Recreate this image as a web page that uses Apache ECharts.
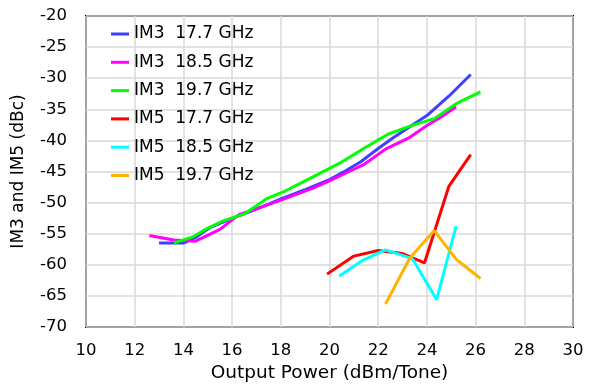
<!DOCTYPE html>
<html>
<head>
<meta charset="utf-8">
<script src="https://cdn.jsdelivr.net/npm/echarts@6/dist/echarts.min.js"></script>
<style>
  html, body { margin: 0; padding: 0; background: #fff; }
  #chart { width: 589px; height: 389px; }
</style>
</head>
<body>
<div id="chart"></div>
<script>
// Two-tone intermodulation products versus output power per tone
const seriesNames = ['IM3  17.7 GHz', 'IM3  18.5 GHz', 'IM3  19.7 GHz',
                     'IM5  17.7 GHz', 'IM5  18.5 GHz', 'IM5  19.7 GHz'];
const seriesColors = ['#3f3fff', '#ff00ff', '#00ff00', '#ff0000', '#00ffff', '#ffb400'];

// Output power (dBm/Tone) and level (dBc) for each trace
const im3_177_pout = [13.0, 14.0, 14.5, 15.1, 15.9, 16.7, 17.4, 18.0, 19.0, 20.0, 20.7, 21.3, 22.0, 22.6, 23.3, 24.0, 24.9, 25.8];
const im3_177_dbc  = [-56.5, -56.5, -55.6, -54.0, -52.7, -51.5, -50.4, -49.4, -47.9, -46.3, -44.8, -43.4, -41.3, -39.6, -37.8, -36.0, -32.9, -29.4];

const im3_185_pout = [12.6, 13.6, 14.5, 15.5, 16.3, 17.0, 18.0, 19.3, 20.0, 20.7, 21.4, 22.3, 23.3, 24.0, 24.6, 25.2];
const im3_185_dbc  = [-55.3, -56.0, -56.2, -54.3, -51.9, -51.0, -49.6, -47.7, -46.5, -45.2, -43.9, -41.4, -39.5, -37.6, -36.2, -34.6];

const im3_197_pout = [13.6, 14.4, 15.0, 15.6, 16.5, 17.0, 17.4, 18.2, 19.3, 20.4, 21.4, 22.4, 23.3, 24.3, 25.2, 26.2];
const im3_197_dbc  = [-56.5, -55.5, -54.1, -53.0, -51.8, -50.5, -49.4, -48.1, -45.9, -43.7, -41.3, -39.0, -37.7, -36.5, -34.1, -32.2];

const im5_177_pout = [19.9, 21.0, 22.0, 23.0, 23.9, 24.9, 25.8];
const im5_177_dbc  = [-61.5, -58.6, -57.7, -58.2, -59.7, -47.4, -42.3];

const im5_185_pout = [20.4, 21.4, 22.3, 23.4, 24.4, 25.2];
const im5_185_dbc  = [-61.8, -59.2, -57.6, -59.0, -65.6, -53.8];

const im5_197_pout = [22.3, 23.3, 24.3, 25.2, 26.2];
const im5_197_dbc  = [-66.3, -58.9, -54.5, -59.1, -62.2];

const traces = [
  [im3_177_pout, im3_177_dbc],
  [im3_185_pout, im3_185_dbc],
  [im3_197_pout, im3_197_dbc],
  [im5_177_pout, im5_177_dbc],
  [im5_185_pout, im5_185_dbc],
  [im5_197_pout, im5_197_dbc]
];

const FONT = 'DejaVu Sans';

const chart = echarts.init(document.getElementById('chart'), null, { renderer: 'canvas' });

chart.setOption({
  animation: false,
  backgroundColor: '#ffffff',
  grid: {
    left: 86, right: 16, top: 16, bottom: 62,
    show: true, borderColor: '#000000', borderWidth: 2, backgroundColor: 'transparent'
  },
  legend: {
    orient: 'vertical',
    left: 111, top: 24,
    padding: 0,
    itemGap: 8.3,
    itemWidth: 18, itemHeight: 3,
    icon: 'rect',
    textStyle: { fontFamily: FONT, fontSize: 17, color: '#000', lineHeight: 20 },
    data: seriesNames
  },
  xAxis: {
    type: 'value', min: 10, max: 30, interval: 2,
    name: 'Output Power (dBm/Tone)',
    nameLocation: 'middle', nameGap: 37,
    nameTextStyle: { fontFamily: FONT, fontSize: 18.5, color: '#000' },
    axisLine: { show: false }, axisTick: { show: false },
    axisLabel: { fontFamily: FONT, fontSize: 16.5, color: '#000', margin: 15 },
    splitLine: { show: true, lineStyle: { color: '#d9d9d9', width: 1.5 } }
  },
  yAxis: {
    type: 'value', min: -70, max: -20, interval: 5,
    name: 'IM3 and IM5 (dBc)',
    nameLocation: 'middle', nameGap: 59, nameRotate: 90,
    nameTextStyle: { fontFamily: FONT, fontSize: 17, color: '#000' },
    axisLine: { show: false }, axisTick: { show: false },
    axisLabel: { fontFamily: FONT, fontSize: 16.5, color: '#000', margin: 19 },
    splitLine: { show: true, lineStyle: { color: '#d9d9d9', width: 1.5 } }
  },
  series: traces.map(([xs, ys], i) => ({
    name: seriesNames[i],
    type: 'line',
    symbol: 'none',
    color: seriesColors[i],
    lineStyle: { width: 3, color: seriesColors[i] },
    data: xs.map((x, k) => [x, ys[k]])
  }))
});
</script>
</body>
</html>
